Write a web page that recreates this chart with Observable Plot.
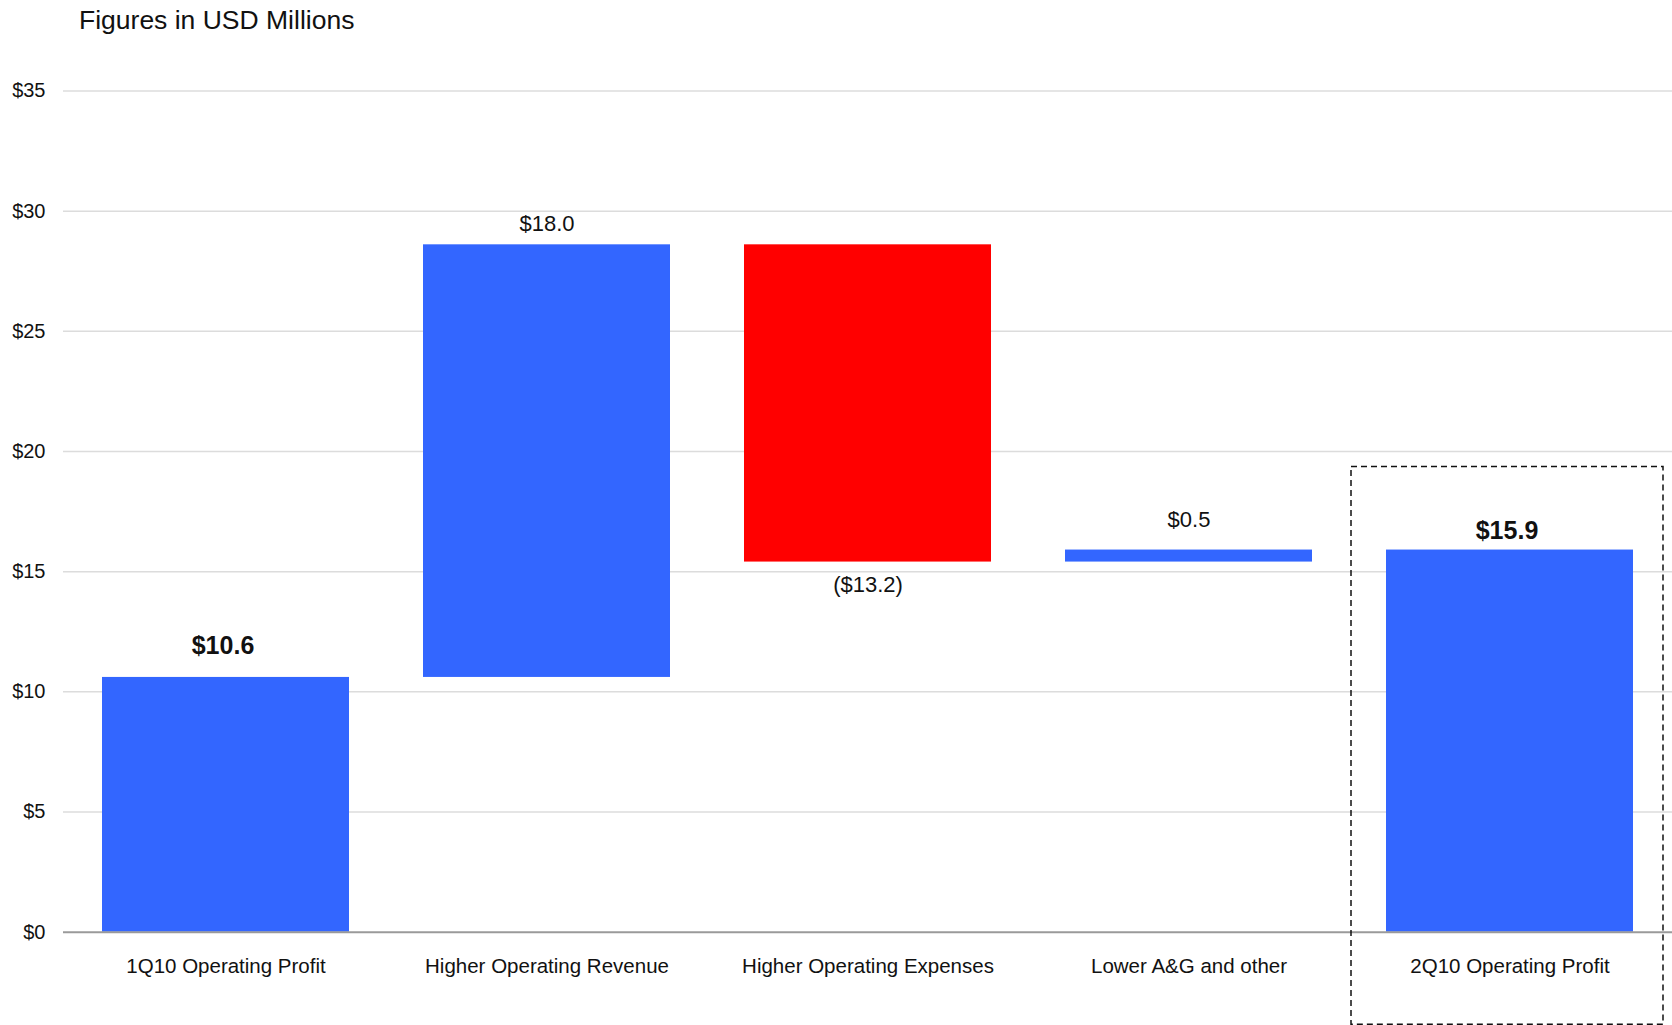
<!DOCTYPE html>
<html>
<head>
<meta charset="utf-8">
<script src="https://cdn.jsdelivr.net/npm/d3@7"></script>
<script src="https://cdn.jsdelivr.net/npm/@observablehq/plot@0.6"></script>
<style>
  html, body { margin: 0; padding: 0; background: #fff; }
  #wrap { position: relative; width: 1672px; height: 1025px; overflow: hidden; }
  #title { position: absolute; left: 79px; top: 5px; font: 26.5px "Liberation Sans", Arial, sans-serif; color: #111; }
  #chart { position: absolute; left: 0; top: 0; }
</style>
</head>
<body>
<div id="wrap">
  <div id="chart"></div>
  <div id="title">Figures in USD Millions</div>
</div>
<script>
const categories = ["1Q10 Operating Profit", "Higher Operating Revenue", "Higher Operating Expenses", "Lower A&G and other", "2Q10 Operating Profit"];
const values = [10.6, 18.0, -13.2, 0.5, 15.9];
const kinds = ["total", "change", "change", "change", "total"];
const valueLabels = ["$10.6", "$18.0", "($13.2)", "$0.5", "$15.9"];
const yTicks = [0, 5, 10, 15, 20, 25, 30, 35];
const yTickLabels = ["$0", "$5", "$10", "$15", "$20", "$25", "$30", "$35"];
const highlighted = ["2Q10 Operating Profit"];

// waterfall table
let running = 0;
const rows = categories.map((c, i) => {
  let y1, y2;
  if (kinds[i] === "total") { y1 = 0; y2 = values[i]; running = values[i]; }
  else { y1 = running; y2 = running + values[i]; running = y2; }
  return {category: c, value: values[i], kind: kinds[i], label: valueLabels[i], y1, y2,
          sign: values[i] < 0 ? "down" : "up"};
});

// rendering-only offsets for value labels (pixels from bar edge to text centre)
const labelDy = [-31, -21, 23, -30, -19];

const labelMarks = rows.map((r, i) => Plot.text([r], {
  x: "category",
  y: d => d.value < 0 ? d.y2 : Math.max(d.y1, d.y2),
  text: "label",
  dx: r.kind === "total" ? -3 : 0,
  dy: labelDy[i],
  fontSize: r.kind === "total" ? 25 : 22,
  fontWeight: r.kind === "total" ? "bold" : "normal",
  fill: "#111"
}));

const chart = Plot.plot({
  width: 1672,
  height: 1025,
  marginLeft: 63,
  marginRight: 0,
  marginTop: 90.5,
  marginBottom: 93.3,
  style: {fontFamily: '"Liberation Sans", Arial, sans-serif', background: "transparent", overflow: "visible"},
  x: {domain: categories, paddingInner: 0.23, paddingOuter: 0.115, axis: null, label: null},
  y: {domain: [0, 35], axis: null, label: null},
  color: {domain: ["up", "down"], range: ["#3366FF", "#FF0000"]},
  marks: [
    Plot.gridY(yTicks.slice(1), {stroke: "#dcdcdc", strokeOpacity: 1, strokeWidth: 1.5}),
    Plot.axisY(yTicks, {
      tickSize: 0, tickPadding: 18, fontSize: 20, fill: "#111", label: null,
      tickFormat: d => yTickLabels[yTicks.indexOf(d)]
    }),
    Plot.barY(rows, {x: "category", y1: "y1", y2: "y2", fill: "sign"}),
    Plot.ruleY([0], {stroke: "#9a9a9a", strokeWidth: 2}),
    Plot.axisX(categories, {tickSize: 0, tickPadding: 26, fontSize: 20.5, fill: "#111", label: null}),
    ...labelMarks,
    Plot.barY(highlighted, {
      x: d => d, y1: () => -3.85, y2: () => 19.36,
      fill: "none", stroke: "#111", strokeWidth: 1.5, strokeDasharray: "6,4",
      insetLeft: -35, insetRight: -30
    })
  ]
});
document.getElementById("chart").appendChild(chart);
</script>
</body>
</html>
